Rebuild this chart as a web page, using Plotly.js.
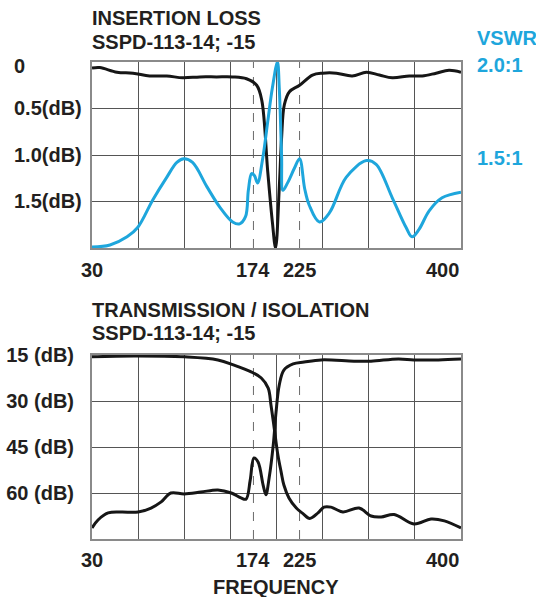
<!DOCTYPE html>
<html>
<head>
<meta charset="utf-8">
<script src="https://cdn.plot.ly/plotly-3.0.1.min.js"></script>
<style>
html,body{margin:0;padding:0;background:#fff;}
#chart{width:536px;height:597px;}
</style>
</head>
<body>
<div id="chart"></div>
<script>
// ---------- DATA ----------
// Frequency axis in chart divisions (0..8); tick labels in MHz
const freqTickPos = [0, 3.5, 4.5, 8];
const freqTickLabels = ["30", "174", "225", "400"];

// Insertion loss (dB)
const ilPos = [0, 0.17, 0.54, 0.89, 1.25, 1.62, 1.97, 2.34, 2.70, 3.05, 3.35, 3.57, 3.68, 3.81, 3.91, 3.98, 4.06, 4.11, 4.17, 4.28, 4.50, 4.78, 5.0, 5.30, 5.64, 5.95, 6.23, 6.51, 6.88, 7.16, 7.46, 7.74, 8.0];
const ilDb  = [0.065, 0.06, 0.11, 0.12, 0.15, 0.15, 0.17, 0.16, 0.16, 0.16, 0.18, 0.25, 0.41, 1.18, 1.72, 2.0, 1.35, 0.82, 0.46, 0.32, 0.25, 0.14, 0.12, 0.12, 0.15, 0.11, 0.14, 0.17, 0.15, 0.15, 0.12, 0.09, 0.11];

// VSWR (x:1)
const vswrPos = [0, 0.39, 0.76, 0.99, 1.32, 1.62, 1.84, 1.99, 2.18, 2.49, 2.77, 3.05, 3.20, 3.33, 3.39, 3.46, 3.52, 3.59, 3.70, 3.81, 3.91, 4.02, 4.06, 4.11, 4.14, 4.24, 4.39, 4.50, 4.61, 4.71, 4.93, 5.15, 5.51, 5.95, 6.16, 6.51, 6.81, 6.94, 7.09, 7.31, 7.59, 8.0];
const vswr    = [1.005, 1.016, 1.06, 1.11, 1.26, 1.38, 1.46, 1.48, 1.46, 1.33, 1.22, 1.14, 1.13, 1.17, 1.31, 1.40, 1.39, 1.35, 1.48, 1.68, 1.86, 2.0, 1.86, 1.50, 1.31, 1.35, 1.43, 1.48, 1.32, 1.23, 1.14, 1.19, 1.38, 1.47, 1.45, 1.27, 1.11, 1.06, 1.10, 1.20, 1.27, 1.30];

// Transmission (dB) - low loss at low frequencies
const trPos = [0, 0.91, 2.0, 2.73, 3.08, 3.45, 3.67, 3.82, 3.88, 3.95, 4.03, 4.10, 4.16, 4.27, 4.43, 4.58, 4.72, 4.90, 5.03, 5.18, 5.44, 5.79, 6.05, 6.27, 6.55, 6.98, 7.35, 7.64, 8.0];
const trDb  = [15.6, 15.3, 15.6, 16.6, 18.3, 20.5, 22.5, 25.8, 31.3, 38.8, 47.6, 53.1, 57.4, 61.6, 64.9, 66.8, 68.3, 66.5, 64.6, 64.6, 66.2, 64.9, 67.5, 67.8, 67.0, 70.1, 68.5, 69.1, 71.4];

// Isolation (dB) - low loss at high frequencies
const isoPos = [0, 0.13, 0.35, 0.63, 1.0, 1.28, 1.50, 1.71, 2.0, 2.36, 2.73, 3.02, 3.23, 3.34, 3.43, 3.51, 3.60, 3.71, 3.77, 3.84, 3.93, 3.99, 4.06, 4.16, 4.36, 4.60, 4.97, 5.68, 6.05, 6.64, 6.98, 7.51, 8.0];
const isoDb  = [71.4, 68.8, 66.5, 66.2, 66.2, 64.9, 62.9, 60.0, 60.3, 59.7, 59.0, 60.0, 61.6, 62.0, 55.8, 48.6, 49.9, 57.4, 60.6, 55.1, 44.3, 33.6, 24.8, 19.9, 17.9, 17.3, 16.6, 17.0, 17.0, 16.3, 16.6, 16.6, 16.3];

// Axis tick values / labels
const ilTicks = [0, 0.5, 1.0, 1.5];
const ilTickLabels = ["0", "0.5(dB)", "1.0(dB)", "1.5(dB)"];
const vswrTicks = [1.5, 2.0];
const vswrTickLabels = ["1.5:1", "2.0:1"];
const isoTicks = [15, 30, 45, 60];
const isoTickLabels = ["15 (dB)", "30 (dB)", "45 (dB)", "60 (dB)"];
const markerPos = [3.5, 4.5];

// ---------- STYLE ----------
const INK = '#231f20';
const CYAN = '#1ea6dc';
const GRID = '#555555';
const FRAME = '#8a8a8a';
const FAM = 'Liberation Sans, Arial, Helvetica, sans-serif';
const W = 536, H = 597;
const xDom = [92 / W, 461 / W];
const topDom = [1 - 248 / H, 1 - 62 / H];
const botDom = [1 - 539 / H, 1 - 355 / H];

const lineStyle = (c) => ({color: c, width: 3, shape: 'spline', smoothing: 1.0});

const traces = [
  {x: vswrPos, y: vswr, xaxis: 'x', yaxis: 'y2', mode: 'lines', line: lineStyle(CYAN), hoverinfo: 'skip'},
  {x: ilPos, y: ilDb, xaxis: 'x', yaxis: 'y', mode: 'lines', line: lineStyle('#161616'), hoverinfo: 'skip'},
  {x: trPos, y: trDb, xaxis: 'x2', yaxis: 'y3', mode: 'lines', line: lineStyle('#161616'), hoverinfo: 'skip'},
  {x: isoPos, y: isoDb, xaxis: 'x2', yaxis: 'y3', mode: 'lines', line: lineStyle('#161616'), hoverinfo: 'skip'}
];

const frameAxis = {
  showline: true, mirror: true, linecolor: FRAME, linewidth: 2,
  showgrid: true, gridcolor: GRID, gridwidth: 1, zeroline: false, ticks: '', fixedrange: true
};

const shapes = [];
markerPos.forEach(p => {
  ['y', 'y3'].forEach((ya, i) => {
    shapes.push({type: 'line', xref: i === 0 ? 'x' : 'x2', yref: ya + ' domain', x0: p, x1: p, y0: 0, y1: 1,
      line: {color: '#6a6a6a', width: 1, dash: 'dash'}, layer: 'below'});
  });
});

const bold = (size, color) => ({family: FAM, size: size, color: color || INK, weight: 700});

const annotations = [];
// titles
[['INSERTION LOSS', 18], ['SSPD-113-14; -15', 42], ['TRANSMISSION / ISOLATION', 310], ['SSPD-113-14; -15', 333]].forEach(t => {
  annotations.push({text: t[0], xref: 'paper', yref: 'paper', x: 90 / W, y: 1 - t[1] / H, xanchor: 'left', yanchor: 'middle', showarrow: false, font: bold(20)});
});
annotations.push({text: 'VSWR', xref: 'paper', yref: 'paper', x: 475 / W, y: 1 - 38 / H, xanchor: 'left', yanchor: 'middle', showarrow: false, font: bold(20, CYAN)});
annotations.push({text: 'FREQUENCY', xref: 'paper', yref: 'paper', x: 276 / W, y: 1 - 587 / H, xanchor: 'center', yanchor: 'middle', showarrow: false, font: bold(20)});
// left labels, insertion loss
ilTicks.forEach((v, i) => {
  annotations.push({text: ilTickLabels[i], xref: 'paper', yref: 'y', x: 12 / W, y: v, xanchor: 'left', yanchor: 'middle', yshift: i === 0 ? -4 : 0, showarrow: false, font: bold(20)});
});
// right labels, VSWR (on the VSWR axis scale)
vswrTicks.forEach((v, i) => {
  annotations.push({text: vswrTickLabels[i], xref: 'paper', yref: 'y2', x: 475 / W, y: v, xanchor: 'left', yanchor: 'middle', yshift: -3, showarrow: false, font: bold(20, CYAN)});
});
// frequency tick labels
[['x', 270], ['x2', 560]].forEach(a => {
  freqTickPos.forEach((p, i) => {
    const last = i === freqTickPos.length - 1;
    annotations.push({text: freqTickLabels[i], xref: a[0], yref: 'paper', x: p, y: 1 - a[1] / H,
      xanchor: last ? 'right' : 'center', yanchor: 'middle', showarrow: false, font: bold(20)});
  });
});

const layout = {
  width: W, height: H,
  margin: {l: 0, r: 0, t: 0, b: 0},
  paper_bgcolor: '#fff', plot_bgcolor: '#fff',
  showlegend: false,
  xaxis: Object.assign({}, frameAxis, {domain: xDom, range: [0, 8], dtick: 1, tick0: 0, anchor: 'y', showticklabels: false}),
  yaxis: Object.assign({}, frameAxis, {domain: topDom, range: [2, 0], dtick: 0.5, tick0: 0, anchor: 'x', showticklabels: false}),
  yaxis2: {overlaying: 'y', side: 'right', anchor: 'x', range: [1, 2], tickmode: 'array', tickvals: vswrTicks,
    showticklabels: false, showgrid: false, zeroline: false, showline: false, ticks: '', fixedrange: true},
  xaxis2: Object.assign({}, frameAxis, {domain: xDom, range: [0, 8], dtick: 1, tick0: 0, anchor: 'y3', showticklabels: false}),
  yaxis3: Object.assign({}, frameAxis, {domain: botDom, range: [75, 15], tickmode: 'array', tickvals: isoTicks, ticktext: isoTickLabels,
    anchor: 'x2', tickfont: bold(20), ticklabelstandoff: 12}),
  shapes: shapes,
  annotations: annotations
};

Plotly.newPlot('chart', traces, layout, {displayModeBar: false, staticPlot: true});
</script>
</body>
</html>
